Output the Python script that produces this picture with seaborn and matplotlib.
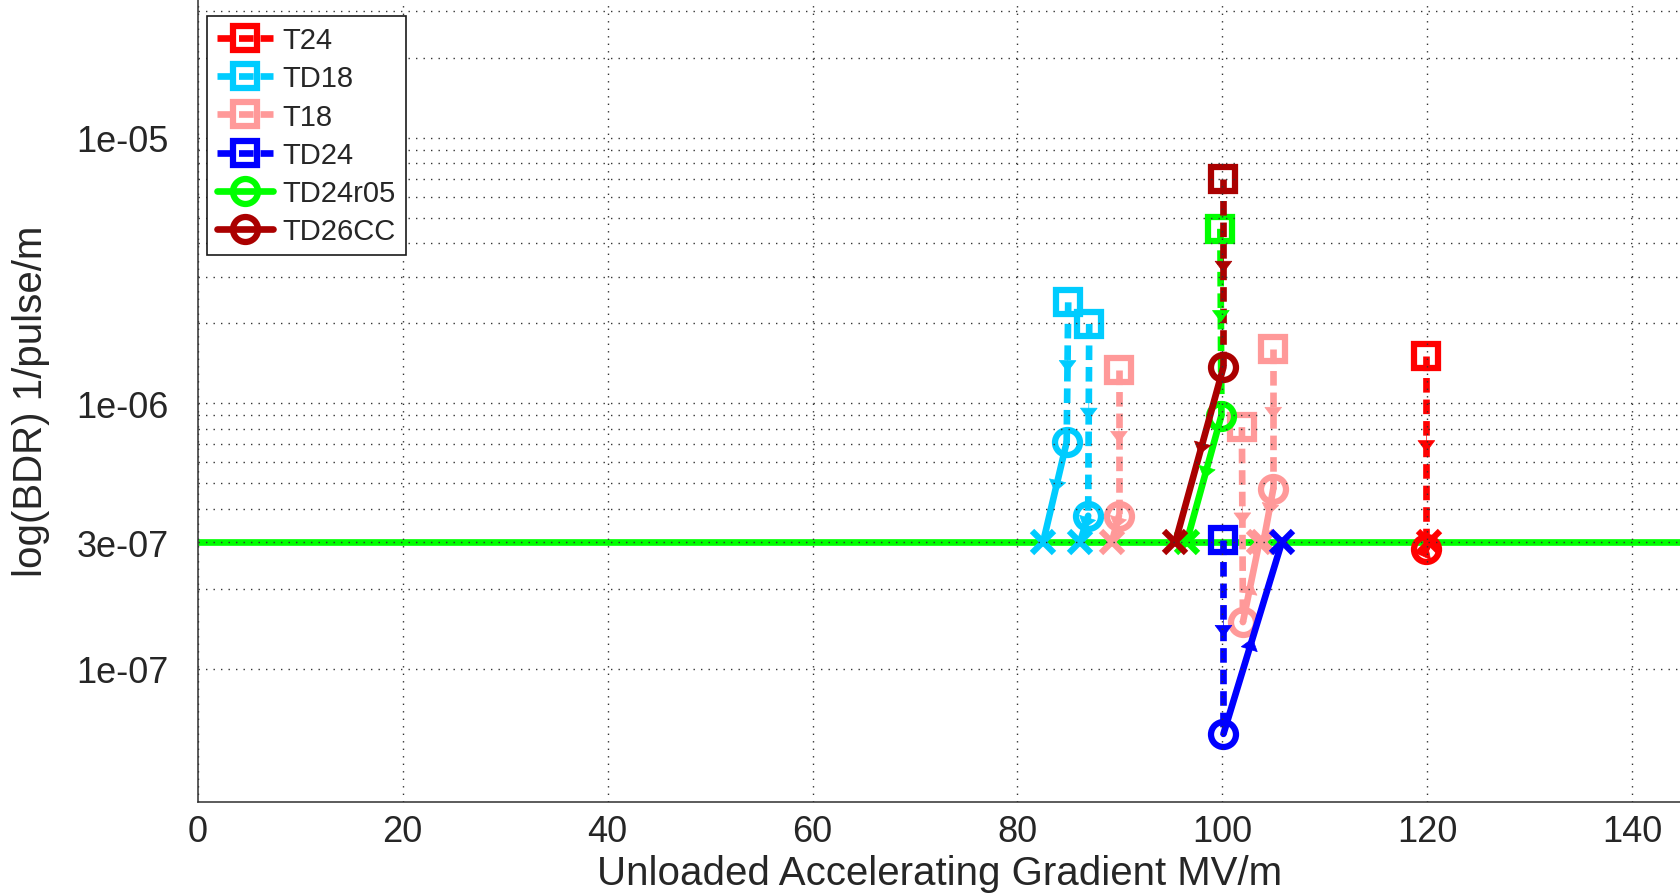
import numpy as np
import pandas as pd
import matplotlib
matplotlib.use("Agg")
import matplotlib.pyplot as plt
import seaborn as sns
from matplotlib.lines import Line2D
from matplotlib.ticker import FixedLocator, NullFormatter, FixedFormatter

# ---------------- data ----------------
names = ["T24", "TD18", "T18", "TD24", "TD24r05", "TD26CC"]
colors = ["#FF0000", "#00CCFF", "#FF9999", "#0000FF", "#00FF00", "#AA0000"]
legend_marker = ["s", "s", "s", "s", "o", "o"]
legend_line = ["--", "--", "--", "--", "-", "-"]

bdr_target = 3e-7

# square = measured point, circle = scaled point, X = gradient at target BDR
T24_sq_grad = [119.9];  T24_sq_bdr = [1.51e-6]
T24_ci_grad = [119.9];  T24_ci_bdr = [2.83e-7]
T24_x_grad = [120.2]

TD18_sq_grad = [84.95, 87.0];  TD18_sq_bdr = [2.40e-6, 1.99e-6]
TD18_ci_grad = [84.8, 86.9];   TD18_ci_bdr = [7.14e-7, 3.77e-7]
TD18_x_grad = [82.5, 86.1]

T18_sq_grad = [89.9, 101.9, 104.96];  T18_sq_bdr = [1.33e-6, 8.13e-7, 1.60e-6]
T18_ci_grad = [89.9, 102.0, 104.96];  T18_ci_bdr = [3.77e-7, 1.50e-7, 4.76e-7]
T18_x_grad = [89.2, 103.6, 104.0]

TD24_sq_grad = [100.1];  TD24_sq_bdr = [3.05e-7]
TD24_ci_grad = [100.1];  TD24_ci_bdr = [5.69e-8]
TD24_x_grad = [105.8]

TD24r05_sq_grad = [99.8];  TD24r05_sq_bdr = [4.54e-6]
TD24r05_ci_grad = [99.9];  TD24r05_ci_bdr = [8.99e-7]
TD24r05_x_grad = [96.5]

TD26CC_sq_grad = [100.1];  TD26CC_sq_bdr = [7.0e-6]
TD26CC_ci_grad = [100.1];  TD26CC_ci_bdr = [1.37e-6]
TD26CC_x_grad = [95.4]

series = [
    (T24_sq_grad, T24_sq_bdr, T24_ci_grad, T24_ci_bdr, T24_x_grad),
    (TD18_sq_grad, TD18_sq_bdr, TD18_ci_grad, TD18_ci_bdr, TD18_x_grad),
    (T18_sq_grad, T18_sq_bdr, T18_ci_grad, T18_ci_bdr, T18_x_grad),
    (TD24_sq_grad, TD24_sq_bdr, TD24_ci_grad, TD24_ci_bdr, TD24_x_grad),
    (TD24r05_sq_grad, TD24r05_sq_bdr, TD24r05_ci_grad, TD24r05_ci_bdr, TD24r05_x_grad),
    (TD26CC_sq_grad, TD26CC_sq_bdr, TD26CC_ci_grad, TD26CC_ci_bdr, TD26CC_x_grad),
]

x_ticks = [0, 20, 40, 60, 80, 100, 120, 140]
y_ticks = [1e-7, 3e-7, 1e-6, 1e-5]
y_tick_labels = ["1e-07", "3e-07", "1e-06", "1e-05"]
y_minor_ticks = [2e-7, 4e-7, 5e-7, 6e-7, 7e-7, 8e-7, 9e-7,
                 2e-6, 3e-6, 4e-6, 5e-6, 6e-6, 7e-6, 8e-6, 9e-6,
                 2e-5, 3e-5]

# ---------------- style ----------------
sns.set_style("white")
plt.rcParams["font.family"] = ["Liberation Sans", "DejaVu Sans"]
plt.rcParams["lines.scale_dashes"] = False

W, H = 1681, 895
fig = plt.figure(figsize=(W / 100, H / 100), dpi=100)
ax_left, ax_bottom = 197.7 / W, 1 - 802.7 / H
ax = fig.add_axes([ax_left, ax_bottom, 1 - ax_left, 1 - ax_bottom])

LW = 4.8
DASH = (0, (10.5, 5.0))
MS_SQ, MS_CI, MS_X = 17.5, 18, 16
MEW = 4.5


def add_arrow(x0, y0, x1, y1, color):
    l0, l1 = np.log10(y0), np.log10(y1)
    xm, ym = x0 + 0.5 * (x1 - x0), 10 ** (l0 + 0.5 * (l1 - l0))
    xb, yb = x0 + 0.40 * (x1 - x0), 10 ** (l0 + 0.40 * (l1 - l0))
    ax.annotate("", xy=(xm, ym), xytext=(xb, yb),
                arrowprops=dict(arrowstyle="-|>,head_length=0.4,head_width=0.3",
                                mutation_scale=20, color=color, lw=0.5,
                                shrinkA=0, shrinkB=0), zorder=2.2)


# target BDR line
ax.axhline(bdr_target, color="#00FF00", lw=LW, zorder=1.5)

for name, color, (sg, sb, cg, cb, xg) in zip(names, colors, series):
    for i in range(len(sg)):
        # dashed: square -> circle
        seg = pd.DataFrame({"g": [sg[i], cg[i]], "b": [sb[i], cb[i]]})
        sns.lineplot(data=seg, x="g", y="b", sort=False, estimator=None,
                     color=color, lw=LW, ax=ax, legend=False)
        ax.get_lines()[-1].set_linestyle(DASH)
        ax.plot(sg[i], sb[i], marker="s", ms=MS_SQ, mew=MEW, mfc="none",
                mec=color, ls="none")
        add_arrow(sg[i], sb[i], cg[i], cb[i], color)
        # solid: circle -> X
        seg2 = pd.DataFrame({"g": [cg[i], xg[i]], "b": [cb[i], bdr_target]})
        sns.lineplot(data=seg2, x="g", y="b", sort=False, estimator=None,
                     color=color, lw=LW, ax=ax, legend=False)
        ax.plot(cg[i], cb[i], marker="o", ms=MS_CI, mew=MEW, mfc="none",
                mec=color, ls="none")
        add_arrow(cg[i], cb[i], xg[i], bdr_target, color)
        ax.plot(xg[i], bdr_target, marker="x", ms=MS_X, mew=MEW, mec=color,
                ls="none")

# ---------------- axes ----------------
ax.set_yscale("log")
ax.set_xlim(0, 144.75)
ax.set_ylim(3.16e-8, 3.33e-5)

ax.xaxis.set_major_locator(FixedLocator(x_ticks))
ax.yaxis.set_major_locator(FixedLocator(y_ticks))
ax.yaxis.set_major_formatter(FixedFormatter(y_tick_labels))
ax.yaxis.set_minor_locator(FixedLocator(y_minor_ticks))
ax.yaxis.set_minor_formatter(NullFormatter())

ax.set_axisbelow(False)
grid_kw = dict(color="0.2", lw=1.0, linestyle=(0, (1.0, 4.4)))
ax.grid(True, axis="x", which="major", **grid_kw)
ax.grid(True, axis="y", which="both", **grid_kw)

ax.tick_params(axis="both", which="major", direction="in", length=7, width=1,
               labelsize=26, color="0.2")
ax.tick_params(axis="y", which="minor", direction="in", length=4, width=1, color="0.2")
ax.tick_params(axis="x", which="major", pad=9)
ax.tick_params(axis="y", which="major", pad=21)

for s in ["top", "right"]:
    ax.spines[s].set_visible(False)
for s in ["left", "bottom"]:
    ax.spines[s].set_color("0.25")
    ax.spines[s].set_linewidth(1.2)

ax.set_xlabel("Unloaded Accelerating Gradient MV/m", fontsize=29, labelpad=3.5)
ax.set_ylabel("log(BDR) 1/pulse/m", fontsize=29)
ax.yaxis.set_label_coords((50 - 197.7) / (W - 197.7), 0.5)

# ---------------- legend ----------------
handles = [Line2D([0], [0], color=c, lw=LW, ls=(DASH if l == "--" else "-"),
                  marker=m, ms=MS_SQ if m == "s" else MS_CI, mew=MEW, mfc="none", mec=c)
           for c, m, l in zip(colors, legend_marker, legend_line)]
leg = fig.legend(handles, names, loc="upper left",
                 bbox_to_anchor=(207 / W, 1 - 17 / H), bbox_transform=fig.transFigure,
                 fontsize=21, frameon=True, fancybox=False, framealpha=1,
                 edgecolor="0.1", borderpad=0.35, labelspacing=0.35,
                 handlelength=1.9, handletextpad=0.35, borderaxespad=0)
leg.get_frame().set_linewidth(1.2)

fig.savefig("out.png", dpi=100)
